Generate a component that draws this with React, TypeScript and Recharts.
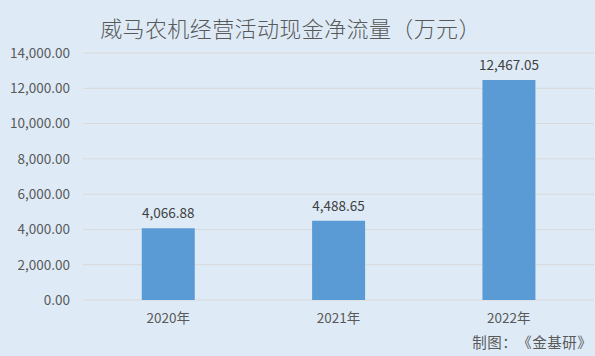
import React from "react";
import { BarChart, Bar, XAxis, YAxis, CartesianGrid, LabelList } from "recharts";

const categories = ["2020年", "2021年", "2022年"];
const values = [4066.88, 4488.65, 12467.05];
const yTicks = [0, 2000, 4000, 6000, 8000, 10000, 12000, 14000];
const title = "威马农机经营活动现金净流量（万元）";
const footer = "制图：《金基研》";

const data = categories.map((c, i) => ({ name: c, value: values[i] }));

const fmt = (v: number) =>
  Number(v).toLocaleString("en-US", { minimumFractionDigits: 2, maximumFractionDigits: 2 });

const FONT = '"Noto Sans CJK SC", "Noto Sans", sans-serif';

export default function App() {
  return (
    <div
      lang="zh-CN"
      style={{
        position: "absolute",
        left: 0,
        top: 0,
        width: 595,
        height: 356,
        background: "#deebf7",
        fontFamily: FONT,
        overflow: "hidden",
      }}
    >
      <div
        style={{
          position: "absolute",
          left: 100,
          top: 12,
          fontSize: 22,
          fontWeight: 300,
          color: "#595959",
          whiteSpace: "nowrap",
          lineHeight: "30px",
          display: "flex",
        }}
      >
        {Array.from(title).map((ch, i) => (
          <span key={i} style={{ display: "inline-block", width: 22.4, textAlign: "center" }}>
            {ch}
          </span>
        ))}
      </div>
      <BarChart
        width={595}
        height={356}
        data={data}
        margin={{ top: 53, right: 1, left: 0, bottom: 26 }}
        barCategoryGap="34.5%"
      >
        <CartesianGrid vertical={false} stroke="#d9d9d9" strokeWidth={1} />
        <XAxis
          dataKey="name"
          axisLine={false}
          tickLine={false}
          tickSize={0}
          tickMargin={13}
          height={30}
          tick={{ fill: "#595959", fontSize: 13.5, fontFamily: FONT }}
        />
        <YAxis
          width={83}
          domain={[0, 14000]}
          ticks={yTicks}
          interval={0}
          axisLine={false}
          tickLine={false}
          tickSize={0}
          tickMargin={13}
          tickFormatter={fmt}
          tick={{ fill: "#595959", fontSize: 13.5, fontFamily: FONT }}
        />
        <Bar dataKey="value" fill="#5b9bd5" isAnimationActive={false}>
          <LabelList
            dataKey="value"
            position="top"
            offset={10}
            formatter={(v: any) => fmt(v)}
            style={{ fill: "#404040", fontSize: 13.5, fontFamily: FONT }}
          />
        </Bar>
      </BarChart>
      <div
        style={{
          position: "absolute",
          left: 472,
          top: 332,
          fontSize: 14.5,
          color: "#595959",
          whiteSpace: "nowrap",
          lineHeight: "20px",
          display: "flex",
        }}
      >
        {Array.from(footer).map((ch, i) => (
          <span key={i} style={{ display: "inline-block", width: 15, textAlign: "center" }}>
            {ch}
          </span>
        ))}
      </div>
    </div>
  );
}
